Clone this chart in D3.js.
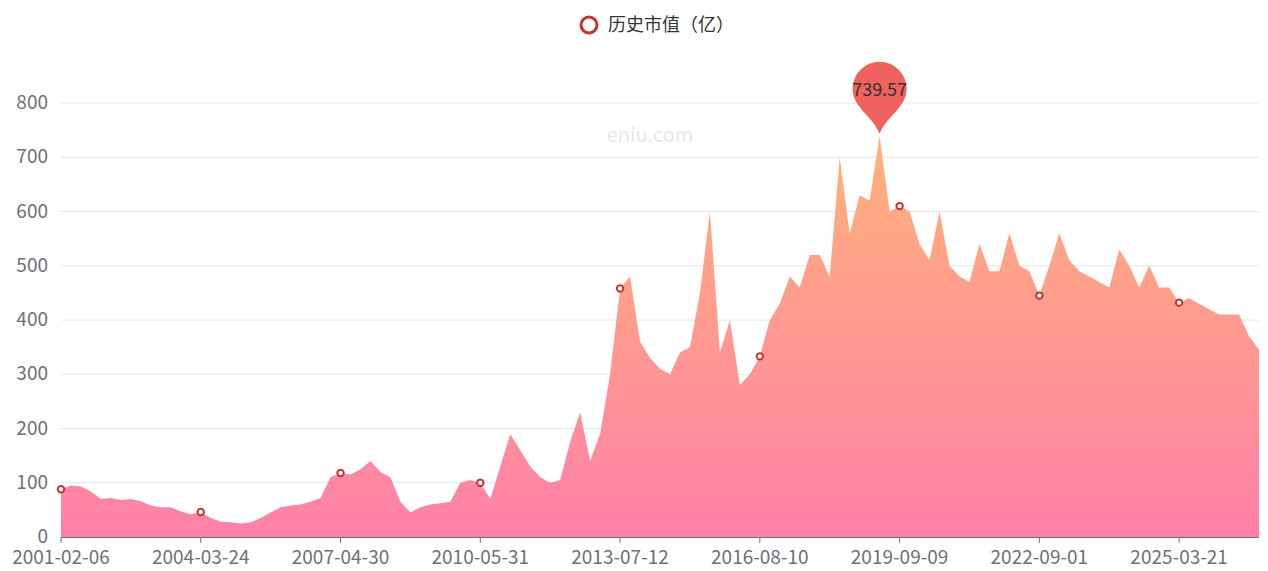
<!DOCTYPE html>
<html><head><meta charset="utf-8">
<script src="https://cdn.jsdelivr.net/npm/d3@7"></script>
<style>body{margin:0;background:#fff;font-family:"Noto Sans CJK SC","Noto Sans",sans-serif}</style>
</head><body><svg id="chart" width="1268" height="571"></svg>
<script>
// market value (亿), sampled evenly along the axis
var values = [88,95,93,84,70,72,68,70,66,58,55,55,47,42,46,35,28,27,25,27,
  35,45,55,58,60,65,72,110,118,115,125,140,120,110,65,45,55,60,62,65,
  100,105,100,70,130,190,160,130,110,100,105,175,230,140,190,300,458,480,360,330,
  310,300,340,350,450,600,340,400,280,300,333,400,430,480,460,520,520,480,700,560,
  630,620,739.57,600,610,600,540,510,600,500,480,470,540,490,490,560,500,490,445,500,
  560,510,490,480,470,460,530,500,460,500,460,460,432,440,430,420,410,410,410,370,345];
var tickLabels = ["2001-02-06","2004-03-24","2007-04-30","2010-05-31","2013-07-12","2016-08-10","2019-09-09","2022-09-01","2025-03-21"];
var tickStep = 14;
var yTicks = [0,100,200,300,400,500,600,700,800];
var seriesName = "历史市值（亿）";

var svg = d3.select("#chart");
var x = d3.scaleLinear().domain([0, values.length - 1]).range([61, 1259]);
var y = d3.scaleLinear().domain([0, 800]).range([537, 103]);

//Gradient fill
var grad = svg.append("defs").append("linearGradient")
  .attr("id", "g").attr("x1", 0).attr("y1", 0).attr("x2", 0).attr("y2", 1);
grad.append("stop").attr("offset", "0%").attr("stop-color", "#ffb27a");
grad.append("stop").attr("offset", "100%").attr("stop-color", "#ff80a8");

//Grid
svg.append("g").selectAll("line").data(yTicks.slice(1)).join("line")
  .attr("x1", 61).attr("x2", 1259).attr("y1", d => y(d)).attr("y2", d => y(d))
  .attr("stroke", "#e0e6f1");
svg.append("g").selectAll("text").data(yTicks).join("text")
  .attr("x", 48).attr("y", d => y(d) + 6).attr("text-anchor", "end")
  .attr("fill", "#6e7079").attr("font-size", 19).text(d => d);

//Watermark
svg.append("text").attr("x", 650).attr("y", 142).attr("text-anchor", "middle")
  .attr("fill", "#e8e8ea").attr("font-size", 20).text("eniu.com");

//Area
svg.append("path").datum(values)
  .attr("fill", "url(#g)")
  .attr("d", d3.area().x((d, i) => x(i)).y0(y(0)).y1(d => y(d)));

//X axis
svg.append("line").attr("x1", 61).attr("x2", 1259).attr("y1", 537.5).attr("y2", 537.5).attr("stroke", "#6e7079");
var tickIdx = tickLabels.map((t, i) => i * tickStep);
svg.append("g").selectAll("line").data(tickIdx).join("line")
  .attr("x1", d => x(d)).attr("x2", d => x(d)).attr("y1", 537).attr("y2", 543).attr("stroke", "#6e7079");
svg.append("g").selectAll("text").data(tickLabels).join("text")
  .attr("x", (d, i) => x(tickIdx[i])).attr("y", 564).attr("text-anchor", "middle")
  .attr("fill", "#6e7079").attr("font-size", 19).text(d => d);

//Symbols
svg.append("g").selectAll("circle").data(tickIdx).join("circle")
  .attr("cx", d => x(d)).attr("cy", d => y(values[d])).attr("r", 3.2)
  .attr("fill", "#fff").attr("stroke", "#c23531").attr("stroke-width", 2);

//Max pin
var mi = d3.maxIndex(values);
var px = x(mi), py = y(values[mi]) - 2;
var pin = svg.append("g").attr("transform", "translate(" + px + "," + py + ")");
pin.append("path")
  .attr("d", "M0,0 C-7,-18 -27,-26 -27,-45 A27,27 0 1 1 27,-45 C27,-26 7,-18 0,0Z")
  .attr("fill", "#f0625e");
pin.append("text").attr("y", -38).attr("text-anchor", "middle")
  .attr("font-size", 18).attr("fill", "#333").text(values[mi]);

//Legend
svg.append("circle").attr("cx", 589).attr("cy", 25).attr("r", 8)
  .attr("fill", "#fff").attr("stroke", "#c23531").attr("stroke-width", 3);
svg.append("text").attr("x", 608).attr("y", 31).attr("fill", "#333").attr("font-size", 18).text(seriesName);
</script></body></html>
